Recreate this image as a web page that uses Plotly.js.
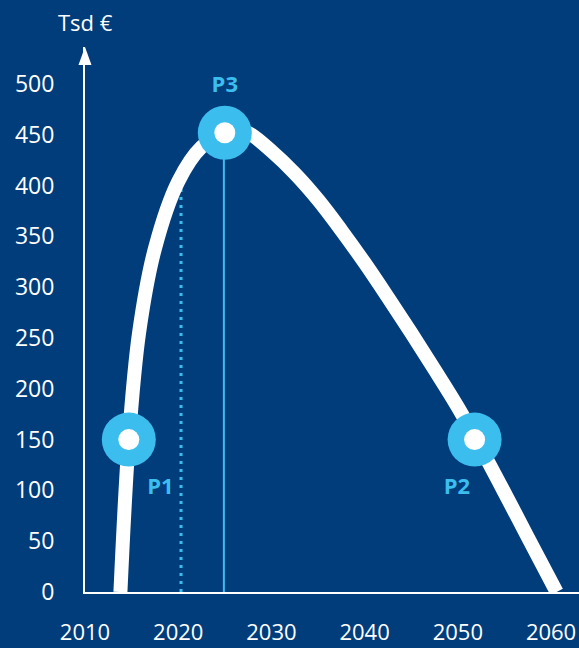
<!DOCTYPE html>
<html>
<head>
<meta charset="utf-8">
<script src="https://cdn.plot.ly/plotly-3.0.1.min.js"></script>
<style>html,body{margin:0;padding:0;background:#023d7b;}#chart{width:579px;height:648px;}</style>
</head>
<body>
<div id="chart"></div>
<script>
// Curve (years, Tsd €)
const curveYears = [2013.8, 2014.7, 2015.8, 2017.5, 2020.0, 2022.5, 2025.0, 2026.4, 2027.5, 2030.0, 2032.5, 2035.0, 2037.5, 2040.0, 2042.5, 2045.0, 2047.5, 2050.0, 2052.5, 2055.0, 2057.5, 2060.6];
const curveValues = [0, 150, 255, 338, 404, 438, 452, 454, 452, 434, 412, 386, 356, 324, 290, 255, 219, 182, 141, 98, 54, 0];
// Highlighted points
const pointNames = ["P1", "P2", "P3"];
const pointYears = [2014.7, 2051.8, 2025.0];
const pointValues = [150, 150, 452];
// Label positions
const labelYears = [2018.1, 2049.9, 2025.0];
const labelValues = [102, 102, 498];
// Reference lines
const dottedYear = 2020.3, dottedTop = 400;
const solidYear = 2024.9, solidTop = 452;
// Ticks
const xTicks = [2010, 2020, 2030, 2040, 2050, 2060];
const yTicks = [0, 50, 100, 150, 200, 250, 300, 350, 400, 450, 500];
const yUnit = "Tsd €";

const bg = "#023d7b", light = "#3bbdee", white = "#ffffff";
const font = "Open Sans, Noto Sans, sans-serif";

const traces = [
  {x: [dottedYear, dottedYear], y: [0, dottedTop], mode: "lines", line: {color: light, width: 3, dash: "3px,5px"}, hoverinfo: "skip"},
  {x: [solidYear, solidYear], y: [0, solidTop], mode: "lines", line: {color: light, width: 2}, hoverinfo: "skip"},
  {x: curveYears, y: curveValues, mode: "lines", line: {color: white, width: 14, shape: "spline", smoothing: 1}, hoverinfo: "skip"},
  {x: pointYears, y: pointValues, mode: "markers", marker: {color: light, size: 54}, hoverinfo: "skip"},
  {x: pointYears, y: pointValues, mode: "markers", marker: {color: white, size: 21}, hoverinfo: "skip"},
  {x: labelYears, y: labelValues, mode: "text", text: pointNames, textposition: "middle center",
   textfont: {family: font, size: 22, color: light, weight: "bold"}, hoverinfo: "skip", cliponaxis: false}
];

const layout = {
  width: 579, height: 648,
  margin: {l: 85, r: 0, t: 47, b: 56},
  paper_bgcolor: bg, plot_bgcolor: bg,
  showlegend: false,
  font: {family: font, color: white, size: 23},
  xaxis: {range: [2010, 2063.0], tickvals: xTicks, ticktext: xTicks.map(String), showgrid: false, zeroline: false,
          showline: true, linecolor: white, linewidth: 2, ticks: "outside", ticklen: 20, tickcolor: "rgba(0,0,0,0)",
          tickfont: {family: font, size: 22, color: white}, fixedrange: true},
  yaxis: {range: [0, 536.4], tickvals: yTicks, ticktext: yTicks.map(String), showgrid: false, zeroline: false,
          showline: true, linecolor: white, linewidth: 2, ticks: "outside", ticklen: 24, tickcolor: "rgba(0,0,0,0)",
          tickfont: {family: font, size: 23, color: white}, fixedrange: true},
  shapes: [
    {type: "path", xref: "paper", yref: "paper", path: "M -0.0132 0.967 L 0.0132 0.967 L 0 1 Z",
     fillcolor: white, line: {width: 0}}
  ],
  annotations: [
    {text: yUnit, xref: "paper", yref: "paper", x: 0, y: 1, yshift: 25, xanchor: "center", yanchor: "middle",
     showarrow: false, font: {family: font, size: 22, color: white}}
  ]
};

Plotly.newPlot("chart", traces, layout, {displayModeBar: false, staticPlot: true});
</script>
</body>
</html>
